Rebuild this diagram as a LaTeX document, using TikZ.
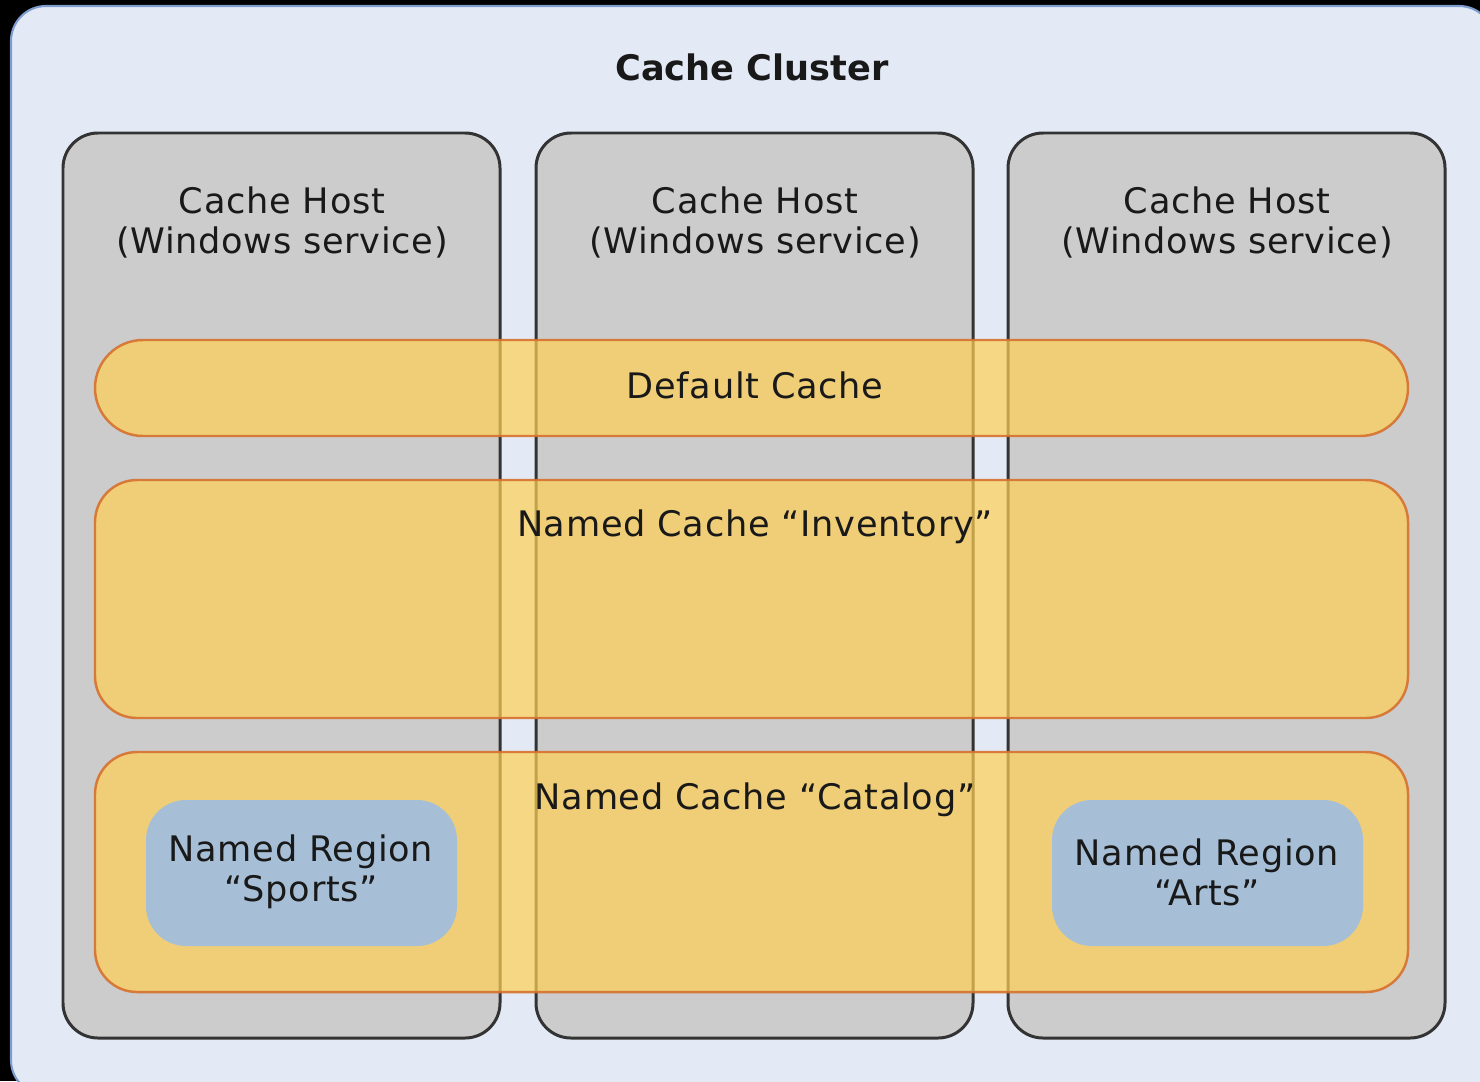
\documentclass[tikz,border=0pt]{standalone}
\usepackage{fontspec}
\setmainfont{DejaVu Sans}
\definecolor{clusterfill}{HTML}{E3EAF5}
\definecolor{clusterline}{HTML}{7F9CCF}
\definecolor{hostfill}{HTML}{CCCCCC}
\definecolor{hostline}{HTML}{333333}
\definecolor{cachefill}{HTML}{FFD054}
\definecolor{cacheline}{HTML}{D6702E}
\definecolor{regionfill}{HTML}{A6BFD7}
\begin{document}
\begin{tikzpicture}[x=0.1mm,y=-0.1mm,font=\fontsize{10}{11.4}\selectfont,
    cluster/.style={draw=clusterline,fill=clusterfill,line width=0.6pt,rounded corners=3.5mm},
    host/.style={draw=hostline,fill=hostfill,line width=0.85pt,rounded corners=3.5mm},
    cache/.style={draw=cacheline,fill=cachefill,fill opacity=0.7,draw opacity=0.9,line width=0.7pt,rounded corners=4.2mm},
    region/.style={fill=regionfill,rounded corners=4mm},
    txt/.style={align=center,text=black!90,inner sep=0pt,font=\fontsize{10}{11.4}\selectfont\addfontfeatures{LetterSpace=2}}]
    \fill[black] (0,0) rectangle (1480,1081);
    \useasboundingbox (0,0) rectangle (1480,1081);
    \draw[cluster] (11,6) rectangle (1494,1095);
    \node[txt,font=\fontsize{10}{12}\selectfont\bfseries] (cluster) at (752,67) {Cache Cluster};
    \foreach \x/\n in {63/1,536/2,1008/3} {
        \draw[host] (\x,133) rectangle (\x+437,1038);
        \node[txt] (host\n) at (\x+219,222) {Cache Host\\(Windows service)};
    }
    \draw[cache,rounded corners=4.8mm] (95,340) rectangle (1408,436);
    \draw[cache] (95,480) rectangle (1408,718);
    \draw[cache] (95,752) rectangle (1408,992);
    \node[txt] (default) at (755,385) {Default Cache};
    \node[txt] (inventory) at (755,527) {Named Cache “Inventory”};
    \node[txt] (catalog) at (755,800) {Named Cache “Catalog”};
    \fill[region] (146,800) rectangle (457,946);
    \fill[region] (1052,800) rectangle (1363,946);
    \node[txt] (sports) at (301,872) {Named Region\\“Sports”};
    \node[txt] (arts) at (1207,872) {Named Region\\“Arts”};
\end{tikzpicture}
\end{document}
